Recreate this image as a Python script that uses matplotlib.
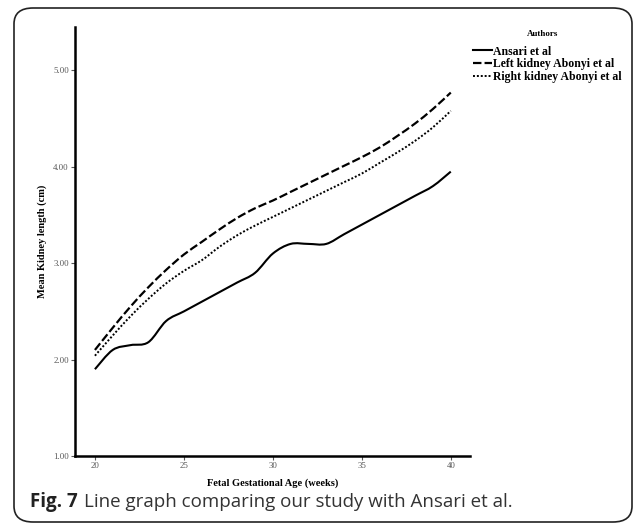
import numpy as np
import matplotlib.pyplot as plt
from matplotlib.path import Path
from matplotlib.patches import PathPatch, FancyBboxPatch
from matplotlib.lines import Line2D

# gestational age (weeks) and mean kidney length (cm)
weeks = [20, 21, 22, 23, 24, 25, 26, 27, 28, 29, 30,
         31, 32, 33, 34, 35, 36, 37, 38, 39, 40]
ansari = [1.90, 2.10, 2.15, 2.18, 2.40, 2.50, 2.60, 2.70, 2.80, 2.90, 3.10,
          3.20, 3.20, 3.20, 3.30, 3.40, 3.50, 3.60, 3.70, 3.80, 3.95]
left_abonyi = [2.10, 2.33, 2.55, 2.75, 2.93, 3.09, 3.22, 3.35, 3.47, 3.57, 3.65,
               3.74, 3.83, 3.92, 4.01, 4.10, 4.20, 4.32, 4.45, 4.60, 4.77]
right_abonyi = [2.04, 2.25, 2.45, 2.63, 2.79, 2.92, 3.03, 3.17, 3.29, 3.39, 3.48,
                3.57, 3.66, 3.75, 3.84, 3.93, 4.04, 4.15, 4.27, 4.41, 4.58]
labels = ["Ansari et al", "Left kidney Abonyi et al", "Right kidney Abonyi et al"]
x_ticks = [20, 25, 30, 35, 40]
y_ticks = [1.0, 2.0, 3.0, 4.0, 5.0]


def smooth_path(xs, ys):
    # Catmull-Rom curve through the points, drawn as cubic bezier segments
    p = np.column_stack([xs, ys]).astype(float)
    p = np.vstack([p[0], p, p[-1]])
    verts = [p[1]]
    codes = [Path.MOVETO]
    for i in range(1, len(p) - 2):
        c1 = p[i] + (p[i + 1] - p[i - 1]) / 6.0
        c2 = p[i + 1] - (p[i + 2] - p[i]) / 6.0
        verts += [c1, c2, p[i + 1]]
        codes += [Path.CURVE4] * 3
    return Path(verts, codes)


serif = "Liberation Serif"
fig = plt.figure(figsize=(6.36, 5.30), dpi=100)

# rounded frame around the whole figure
frame = FancyBboxPatch((14 / 636, 8 / 530), 618 / 636, 514 / 530,
                       boxstyle="round,pad=0,rounding_size=0.03",
                       transform=fig.transFigure, fill=False,
                       edgecolor="#222222", linewidth=1.2)
fig.patches.append(frame)

ax = fig.add_axes([75 / 636, 1 - 456 / 530, 395 / 636, 429 / 530])

styles = [dict(linestyle="-", linewidth=1.5),
          dict(linestyle=(0, (3.8, 1.4)), linewidth=1.6),
          dict(linestyle=(0, (1.0, 1.0)), linewidth=1.4)]
for ys, st in zip([ansari, left_abonyi, right_abonyi], styles):
    ax.add_patch(PathPatch(smooth_path(weeks, ys), fill=False,
                           edgecolor="black", **st))

ax.set_xlim(18.88, 41.08)
ax.set_ylim(1.0, 5.45)
ax.set_xticks(x_ticks)
ax.set_xticklabels([str(t) for t in x_ticks])
ax.set_yticks(y_ticks)
ax.set_yticklabels(["%.2f" % t for t in y_ticks])
for s in ["top", "right"]:
    ax.spines[s].set_visible(False)
for s in ["left", "bottom"]:
    ax.spines[s].set_linewidth(1.8)
ax.tick_params(length=3, width=0.8, color="#555555", labelsize=6.3,
               labelcolor="#555555", pad=1.5)
for lab in ax.get_xticklabels() + ax.get_yticklabels():
    lab.set_fontfamily(serif)

ax.set_xlabel("Fetal Gestational Age (weeks)", fontsize=7.5, fontweight="bold",
              fontfamily=serif, labelpad=6)
ax.set_ylabel("Mean Kidney length (cm)", fontsize=7.5, fontweight="bold",
              fontfamily=serif, labelpad=4)

# legend title placed separately to match the spacing of the original
fig.text(543 / 636, 1 - 34 / 530, "Authors", ha="center", va="center",
         fontsize=6.5, fontweight="bold", fontfamily=serif)
handles = [Line2D([], [], color="black", **st) for st in styles]
leg = fig.legend(handles, labels, loc="upper left",
                 bbox_to_anchor=(462 / 636, 1 - 35 / 530), frameon=False,
                 handlelength=1.6, handletextpad=0.1, labelspacing=0.05,
                 prop=dict(family=serif, weight="bold", size=8.5))

# caption: bold "Fig. 7" followed by the plain text
fig.canvas.draw()
cap = fig.text(30 / 636, 1 - 502 / 530, "Fig. 7", fontsize=13.5, fontweight="bold",
               fontfamily="Open Sans", va="center", color="#222222")
bb = cap.get_window_extent(renderer=fig.canvas.get_renderer())
fig.text((bb.x1 + 6) / 636, 1 - 502 / 530,
         "Line graph comparing our study with Ansari et al.",
         fontsize=13.5, fontfamily="Open Sans", va="center", color="#333333")

fig.savefig("out.png", dpi=100)
